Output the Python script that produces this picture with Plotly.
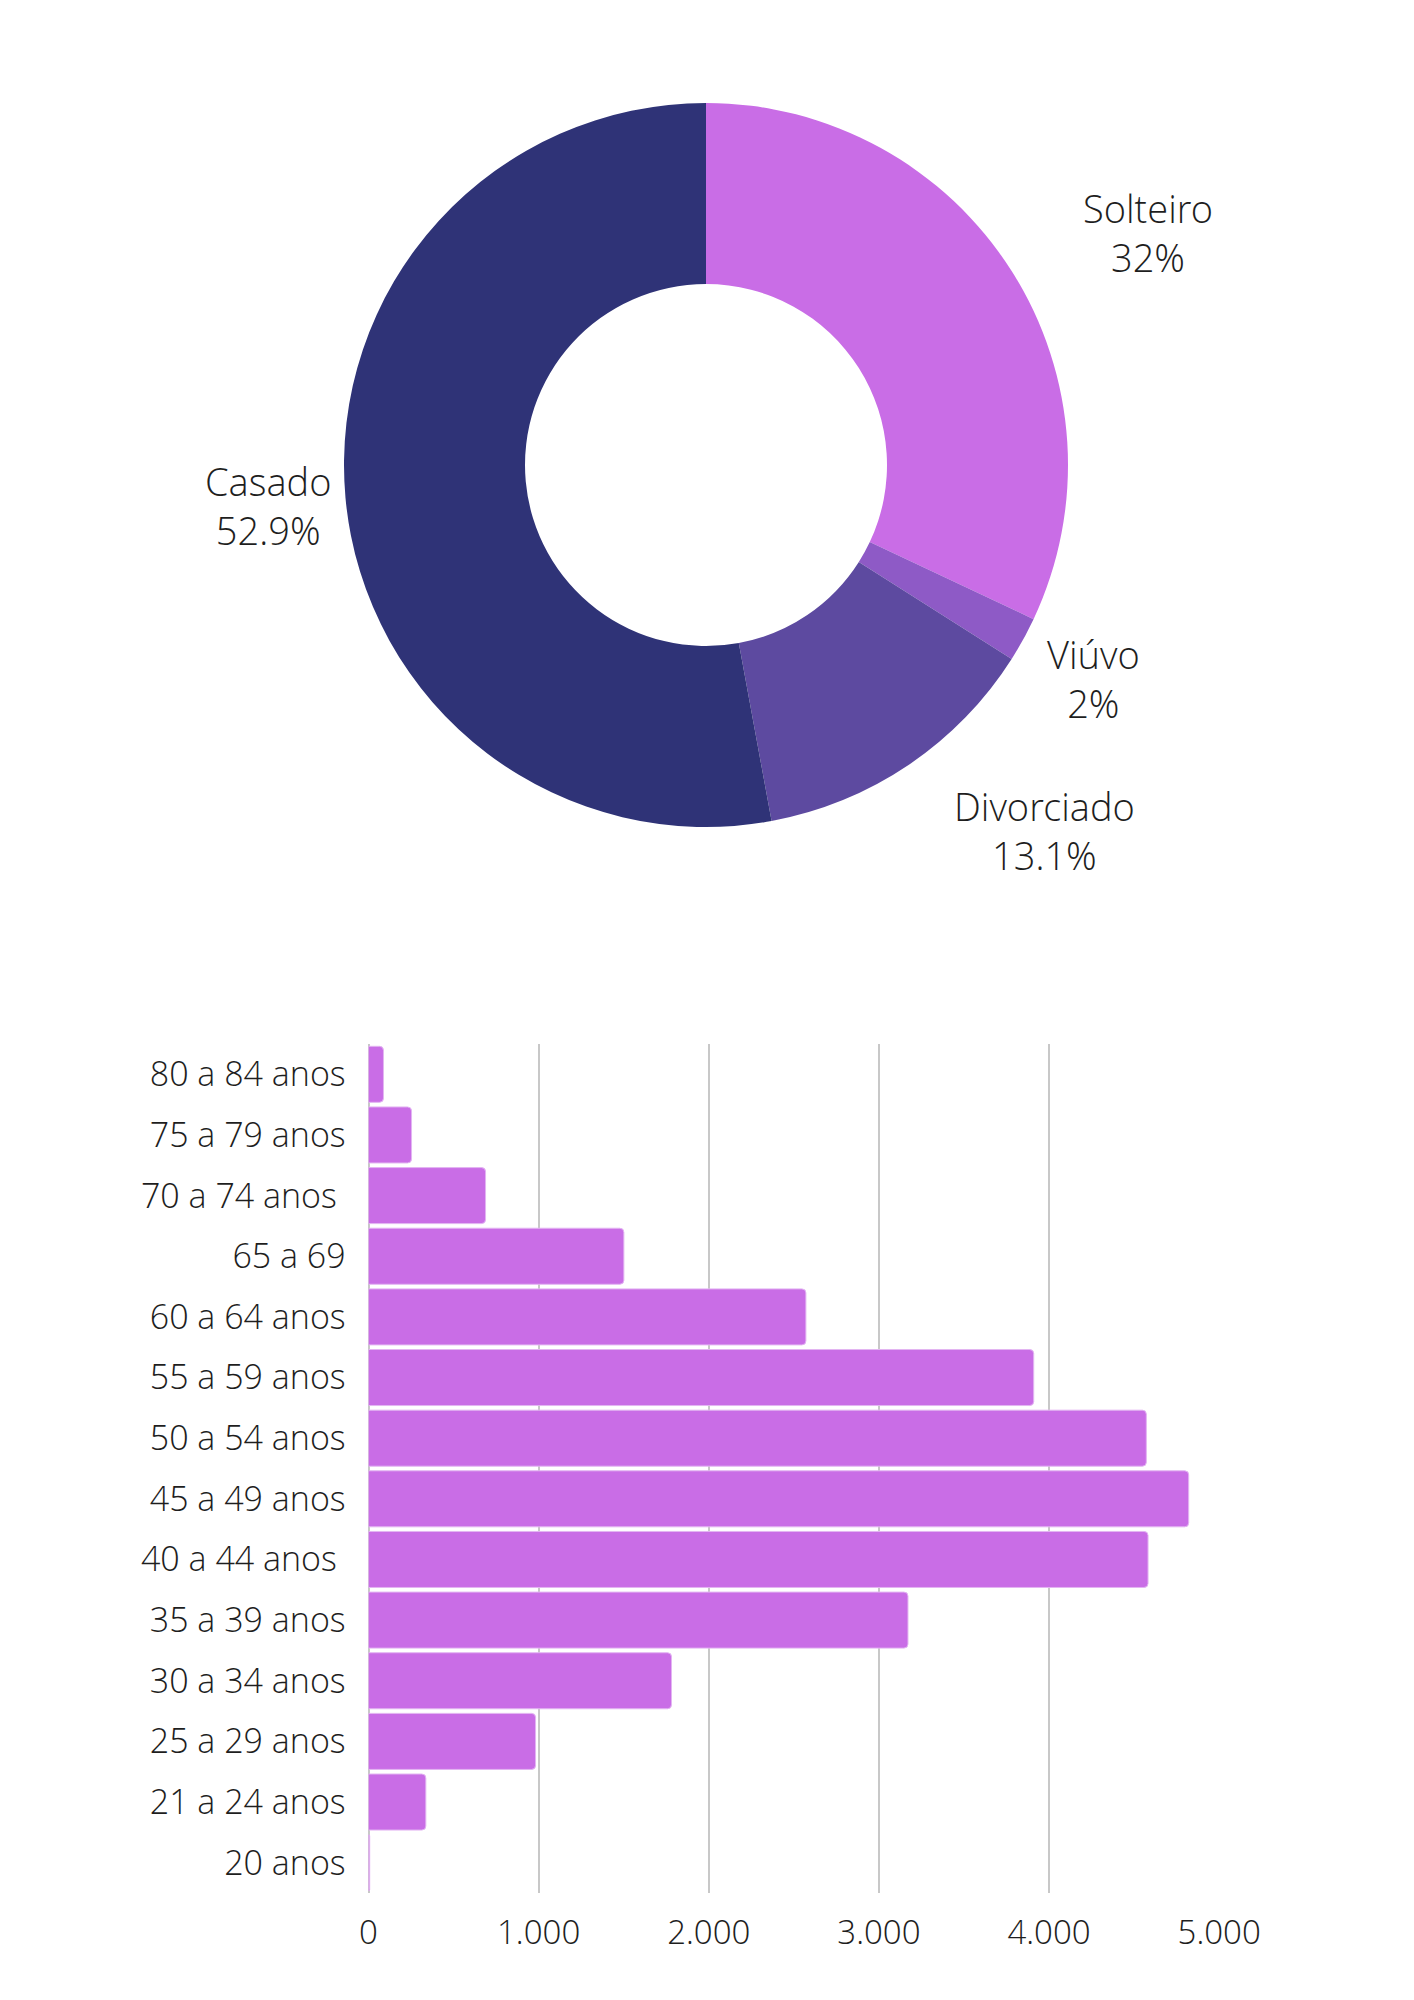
import math
import plotly.graph_objects as go

# Donut data
status_labels = ["Solteiro", "Viúvo", "Divorciado", "Casado"]
status_values = [32.0, 2.0, 13.1, 52.9]
status_colors = ["#C96DE6", "#8E5AC6", "#5D4AA0", "#2F3377"]

# Bar data (top to bottom)
age_groups = ["80 a 84 anos", "75 a 79 anos", "70 a 74 anos\u00a0", "65 a 69", "60 a 64 anos",
              "55 a 59 anos", "50 a 54 anos", "45 a 49 anos", "40 a 44 anos\u00a0", "35 a 39 anos",
              "30 a 34 anos", "25 a 29 anos", "21 a 24 anos", "20 anos"]
age_counts = [88, 253, 688, 1501, 2571, 3910, 4572, 4821, 4582, 3171, 1781, 982, 337, 7]
x_tickvals = [0, 1000, 2000, 3000, 4000, 5000]
x_ticktext = ["0", "1.000", "2.000", "3.000", "4.000", "5.000"]

FONT = "Open Sans Light, Open Sans"
TXT = "#1e1e1e"
OFF = 8                      # page body margin
W, H = 1414 - OFF, 2000 - OFF

def px_x(page_x):
    return (page_x - OFF) / W

def px_y(page_y):
    return 1 - (page_y - OFF) / H

# donut geometry (page pixels)
CX, CY, R = 706, 465, 362
pie_domain = dict(x=[px_x(CX - R), px_x(CX + R)], y=[px_y(CY + R), px_y(CY - R)])

# label placement style: radial factor and angular nudge (deg) per slice
label_style = {"Solteiro": (1.38, 4.6), "Viúvo": (1.222, 0.0),
               "Divorciado": (1.377, -8.8), "Casado": (1.215, 0.0)}

fig = go.Figure()

fig.add_trace(go.Pie(
    labels=status_labels, values=status_values,
    hole=0.5, sort=False, direction="clockwise", rotation=0,
    marker=dict(colors=status_colors, line=dict(width=0)),
    textinfo="none",
    domain=pie_domain,
    showlegend=False,
))

total = sum(status_values)
cum = 0.0
annotations = []
for lab, val in zip(status_labels, status_values):
    mid = (cum + val / 2) / total * 360.0
    cum += val
    f, d = label_style[lab]
    a = math.radians(mid + d)
    lx = CX + f * R * math.sin(a)
    ly = CY - f * R * math.cos(a)
    pct = f"{val:.1f}".rstrip("0").rstrip(".") + "%"
    annotations.append(dict(
        x=px_x(lx), y=px_y(ly), xref="paper", yref="paper",
        text=f"{lab}<br>{pct}", showarrow=False, xanchor="center", yanchor="middle",
        font=dict(family=FONT, size=38, color=TXT, weight=300), align="center",
    ))

fig.add_trace(go.Bar(
    y=age_groups, x=age_counts, orientation="h",
    marker=dict(color="#C96DE6", line=dict(color="#E3B5F2", width=1), cornerradius=4),
    xaxis="x", yaxis="y", showlegend=False,
))

fig.update_layout(
    width=W, height=H,
    margin=dict(l=0, r=0, t=0, b=0),
    paper_bgcolor="white", plot_bgcolor="white",
    font=dict(family=FONT, color=TXT, weight=300),
    bargap=0.076,
    annotations=annotations,
    xaxis=dict(domain=[px_x(368.5), px_x(1220)], range=[0, 5005], automargin=False,
               tickvals=x_tickvals, ticktext=x_ticktext,
               showgrid=True, gridcolor="#C8C8C8", gridwidth=1.5,
               zeroline=True, zerolinecolor="#C8C8C8", zerolinewidth=1.5,
               ticks="outside", ticklen=10, tickcolor="rgba(0,0,0,0)",
               tickfont=dict(family=FONT, size=33, color=TXT, weight=300),
               showline=False, fixedrange=True),
    yaxis=dict(domain=[px_y(1893), px_y(1044)], autorange="reversed", automargin=False,
               categoryorder="array", categoryarray=age_groups,
               ticks="outside", ticklen=15, tickcolor="rgba(0,0,0,0)",
               tickfont=dict(family=FONT, size=34, color=TXT, weight=300),
               showgrid=False, showline=False, zeroline=False),
)

fig.write_html("out.html")
